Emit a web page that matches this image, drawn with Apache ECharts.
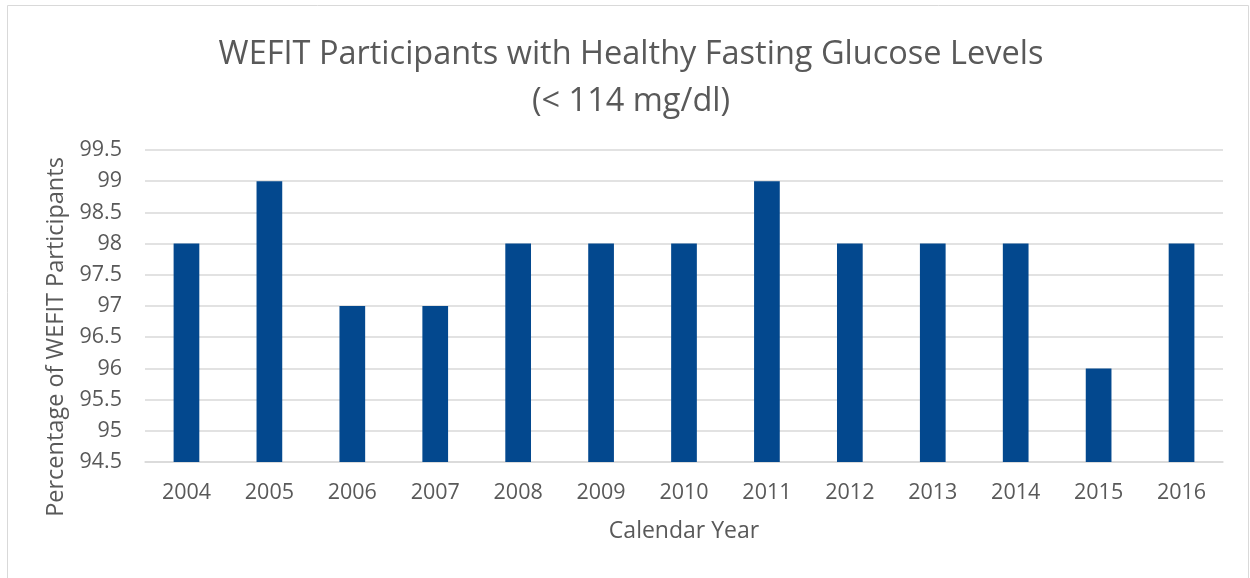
<!DOCTYPE html>
<html>
<head>
<meta charset="utf-8">
<script src="https://cdn.jsdelivr.net/npm/echarts@6/dist/echarts.min.js"></script>
<style>
  html, body { margin: 0; padding: 0; background: #fff; }
  #chart { width: 1250px; height: 578px; }
</style>
</head>
<body>
<div id="chart"></div>
<script>
// values
const years = ['2004', '2005', '2006', '2007', '2008', '2009', '2010', '2011', '2012', '2013', '2014', '2015', '2016'];
const healthyPct = [98, 99, 97, 97, 98, 98, 98, 99, 98, 98, 98, 96, 98];

const font = 'Open Sans';
const grey = '#595959';

const chart = echarts.init(document.getElementById('chart'));
chart.setOption({
  animation: false,
  graphic: [{
    type: 'rect',
    shape: { x: 7.5, y: 5.5, width: 1241, height: 600 },
    style: { fill: 'none', stroke: '#d9d9d9', lineWidth: 1 },
    silent: true
  }],
  title: {
    text: 'WEFIT Participants with Healthy Fasting Glucose Levels\n(< 114 mg/dl)',
    left: 626,
    top: 26,
    textAlign: 'center',
    textStyle: {
      fontFamily: font,
      fontSize: 32.5,
      fontWeight: 'normal',
      color: grey,
      lineHeight: 47
    }
  },
  grid: { left: 145, right: 27, top: 150, bottom: 116, containLabel: false },
  xAxis: {
    type: 'category',
    data: years,
    name: 'Calendar Year',
    nameLocation: 'middle',
    nameGap: 58,
    nameTextStyle: { fontFamily: font, fontSize: 23, color: grey },
    axisLine: { show: true, lineStyle: { color: '#d9d9d9', width: 1.5 } },
    axisTick: { show: false },
    axisLabel: { fontFamily: font, fontSize: 21.5, color: grey, margin: 20 }
  },
  yAxis: {
    type: 'value',
    min: 94.5,
    max: 99.5,
    interval: 0.5,
    name: 'Percentage of WEFIT Participants',
    nameLocation: 'middle',
    nameGap: 71,
    nameTextStyle: { fontFamily: font, fontSize: 23.5, color: grey, padding: [0, 62, 0, 0] },
    axisLine: { show: false },
    axisTick: { show: false },
    axisLabel: { fontFamily: font, fontSize: 21.5, color: grey, margin: 23 },
    splitLine: { lineStyle: { color: '#d9d9d9', width: 1.5 } }
  },
  series: [{
    type: 'bar',
    data: healthyPct,
    barWidth: '31%',
    itemStyle: { color: '#03488E' }
  }]
});
</script>
</body>
</html>
